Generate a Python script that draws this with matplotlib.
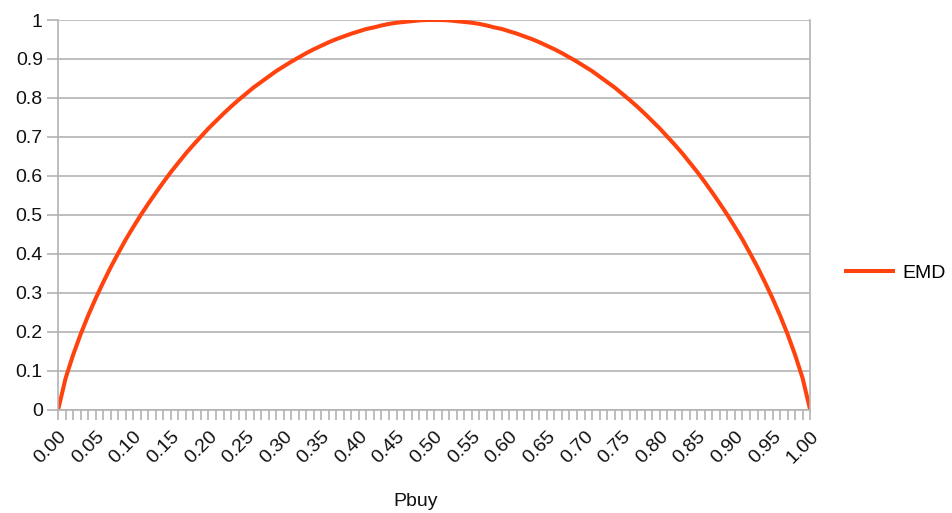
import matplotlib
matplotlib.use("Agg")
import matplotlib.pyplot as plt

plt.rcParams['font.family'] = ['Liberation Sans', 'DejaVu Sans']

# Pbuy from 0.00 to 1.00 in steps of 0.01
pbuy = [i / 100 for i in range(101)]
emd = [0.000, 0.081, 0.141, 0.194, 0.242, 0.286, 0.327, 0.366, 0.402, 0.437,
       0.469, 0.500, 0.529, 0.557, 0.584, 0.610, 0.634, 0.658, 0.680, 0.701,
       0.722, 0.741, 0.760, 0.778, 0.795, 0.811, 0.827, 0.841, 0.855, 0.869,
       0.881, 0.893, 0.904, 0.915, 0.925, 0.934, 0.943, 0.951, 0.958, 0.965,
       0.971, 0.977, 0.981, 0.986, 0.990, 0.993, 0.995, 0.997, 0.999, 1.000,
       1.000,
       1.000, 0.999, 0.997, 0.995, 0.993, 0.990, 0.986, 0.981, 0.977, 0.971,
       0.965, 0.958, 0.951, 0.943, 0.934, 0.925, 0.915, 0.904, 0.893, 0.881,
       0.869, 0.855, 0.841, 0.827, 0.811, 0.795, 0.778, 0.760, 0.741, 0.722,
       0.701, 0.680, 0.658, 0.634, 0.610, 0.584, 0.557, 0.529, 0.500, 0.469,
       0.437, 0.402, 0.366, 0.327, 0.286, 0.242, 0.194, 0.141, 0.081, 0.000]
yticks = [0, 0.1, 0.2, 0.3, 0.4, 0.5, 0.6, 0.7, 0.8, 0.9, 1]
ylabels = ['0', '0.1', '0.2', '0.3', '0.4', '0.5', '0.6', '0.7', '0.8', '0.9', '1']
xlabels = ['%.2f' % (i / 100) for i in range(0, 101, 5)]

grey = '#b3b3b3'
txt = '#111111'

fig = plt.figure(figsize=(9.52, 5.13), dpi=100)
ax = fig.add_axes([0.061, 0.201, 0.79, 0.76])

ax.plot(pbuy, emd, color='#ff420e', linewidth=2.9, label='EMD',
        solid_capstyle='butt')

ax.set_xlim(0, 1)
ax.set_ylim(0, 1)
ax.set_yticks(yticks)
ax.set_yticklabels(ylabels, fontsize=14, color=txt)
ax.set_xticks([i / 100 for i in range(0, 101, 5)])
ax.set_xticklabels(xlabels, fontsize=14, color=txt, rotation=45,
                   ha='right', va='top', rotation_mode='anchor')
ax.set_xticks(pbuy, minor=True)

ax.grid(axis='y', color=grey, linewidth=1.2)
ax.set_axisbelow(True)
ax.tick_params(axis='y', length=8, width=1.2, color=grey, pad=3)
ax.tick_params(axis='x', which='both', length=7, width=1.2, color=grey, pad=6)

for s in ['left', 'bottom', 'right']:
    ax.spines[s].set_color(grey)
    ax.spines[s].set_linewidth(1.2)
ax.spines['top'].set_visible(False)

fig.legend(loc='center left', bbox_to_anchor=(0.887, 0.467), frameon=False,
           fontsize=14, handlelength=2.6, handletextpad=0.4, borderpad=0,
           borderaxespad=0)
fig.text(0.437, 0.022, 'Pbuy', fontsize=14, ha='center', va='center',
         color=txt)

fig.savefig('out.png', dpi=100)
